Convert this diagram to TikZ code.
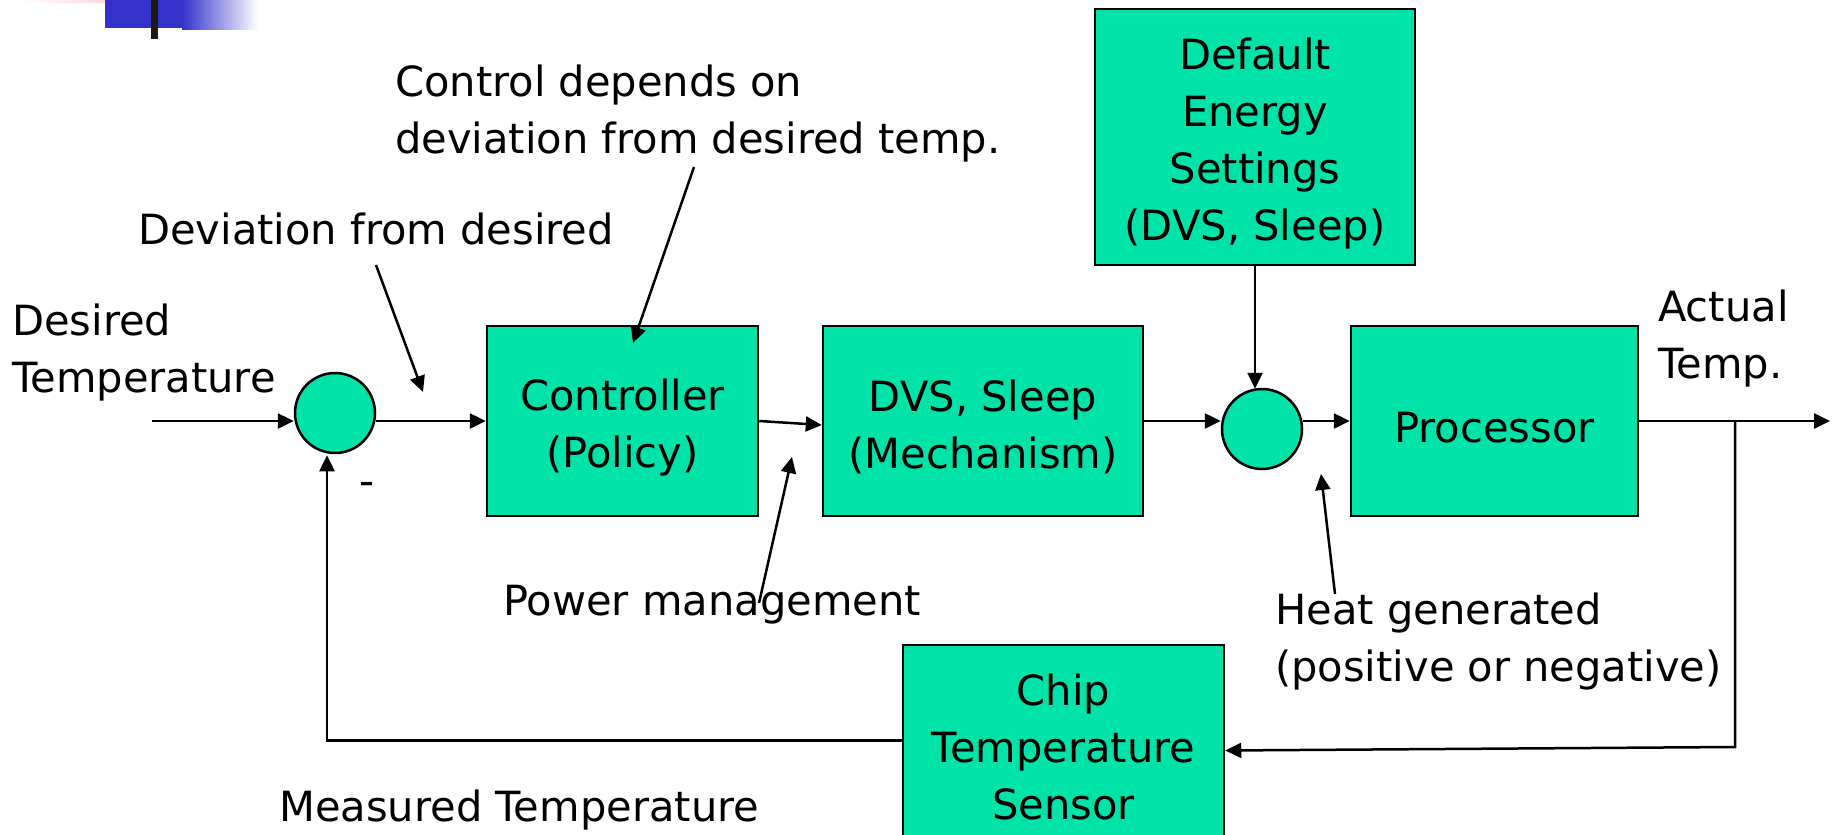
\documentclass[tikz,border=0pt]{standalone}
\usepackage{fontspec}
\setmainfont{DejaVu Sans}
\usetikzlibrary{arrows.meta}
\definecolor{boxgreen}{HTML}{00E3A8}
\definecolor{logoblue}{HTML}{3333CC}
\definecolor{logopink}{HTML}{F9C9D2}
\newcommand{\toppad}{\rule{0pt}{44pt}}
\begin{document}
\begin{tikzpicture}[x=1pt,y=-1pt,
  every node/.style={font=\fontsize{41.6}{57}\selectfont, inner sep=0pt},
  blk/.style={draw=black, line width=2.5pt, fill=boxgreen, align=center},
  sumnode/.style={circle, draw=black, line width=2.5pt, fill=boxgreen, minimum size=80pt},
  lbl/.style={align=left, anchor=west, yshift=-4pt},
  arr/.style={line width=2.5pt, -{Triangle[length=16pt,width=15pt]}},
  wire/.style={line width=2.5pt}]
\useasboundingbox (0,0) rectangle (1836,835);
% logo
\shade[left color=white, right color=logopink] (20,0) rectangle (136,2.5);
\fill[logoblue] (105,0) rectangle (182,28);
\shade[left color=logoblue, right color=white] (182,0) rectangle (258,29);
\fill[black!90] (151,0) rectangle (158,39);
% blocks
\node[sumnode] (sum1) at (335,413) {};
\node[blk, minimum width=271pt, minimum height=190pt] (ctrl) at (622.5,421) {\toppad Controller\\(Policy)};
\node[blk, minimum width=320pt, minimum height=190pt] (dvs) at (983,421) {\toppad DVS, Sleep\\(Mechanism)};
\node[sumnode] (sum2) at (1262,429) {};
\node[blk, minimum width=287pt, minimum height=190pt] (proc) at (1494.5,421) {\toppad Processor};
\node[blk, minimum width=320pt, minimum height=256pt] (def) at (1255,137) {\toppad Default\\Energy\\ Settings\\(DVS, Sleep)};
\node[blk, minimum width=321pt, minimum height=191pt] (sens) at (1063.5,740.5) {\toppad Chip\\Temperature\\Sensor};
% labels
\node[lbl] (desired) at (12,349) {Desired\\Temperature};
\node[lbl] (dev) at (138,225) {Deviation from desired};
\node[lbl] (ctrltxt) at (395,110) {Control depends on\\deviation from desired temp.};
\node[lbl] (power) at (503,601) {Power management};
\node[lbl] (heat) at (1275,638) {Heat generated\\(positive or negative)};
\node[lbl] (actual) at (1658,335) {Actual\\Temp.};
\node[lbl] (meas) at (279,806) {Measured Temperature};
\node (minus) at (367,489) {-};
% coordinates
\coordinate (in) at (152,421);
\coordinate (out) at (1830,421);
\coordinate (br) at (1735,421);
\coordinate (br2) at (1735,747);
\coordinate (fb) at (327,740.5);
\coordinate (a1s) at (376,265);
\coordinate (a1e) at (423,392);
\coordinate (a2s) at (694,167);
\coordinate (a2e) at (633,343);
\coordinate (a3s) at (759,603);
\coordinate (a3e) at (792,457);
\coordinate (a4s) at (1335,594);
\coordinate (a4e) at (1321,474);
% connectors
\draw[arr] (in) -- (in -| sum1.west);
\draw[arr] (sum1.east |- ctrl.west) -- (ctrl.west);
\draw[arr] (ctrl.east) -- ([yshift=-4pt]dvs.west);
\draw[arr] (dvs.east) -- (dvs.east -| sum2.west);
\draw[arr] (sum2.east |- proc.west) -- (proc.west);
\draw[arr] (proc.east) -- (out);
\draw[arr] (br) -- (br2) -- ([yshift=-10pt]sens.east);
\draw[arr] (sens.west) -- (fb) -- ([yshift=-1pt]fb |- sum1.south);
\draw[arr] (def.south) -- ([yshift=-1pt]def.south |- sum2.north);
\draw[arr] (a1s) -- (a1e);
\draw[arr] (a2s) -- (a2e);
\draw[arr] (a3s) -- (a3e);
\draw[arr] (a4s) -- (a4e);
\end{tikzpicture}
\end{document}
